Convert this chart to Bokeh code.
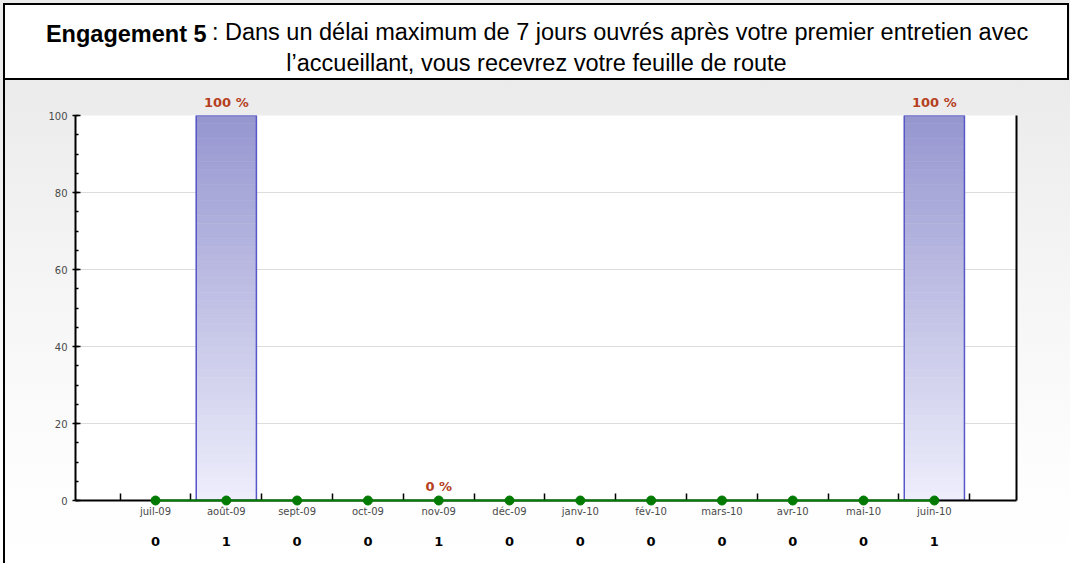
from bokeh.plotting import figure
from bokeh.models import (ColumnDataSource, Range1d, FixedTicker, LinearAxis,
                          SingleIntervalTicker, LabelSet, Grid)
from bokeh.embed import file_html
from bokeh.resources import INLINE
from bokeh.core.properties import value

# ---- data ----
months = ["juil-09", "août-09", "sept-09", "oct-09", "nov-09", "déc-09",
          "janv-10", "fév-10", "mars-10", "avr-10", "mai-10", "juin-10"]
counts = [0, 1, 0, 0, 1, 0, 0, 0, 0, 0, 0, 1]
percent = [None, 100, None, None, 0, None, None, None, None, None, None, 100]
target = [0, 0, 0, 0, 0, 0, 0, 0, 0, 0, 0, 0]
title_bold = "Engagement 5"
title_rest1 = ": Dans un délai maximum de 7 jours ouvrés après votre premier entretien avec"
title_line2 = "l’accueillant, vous recevrez votre feuille de route"
y_ticks_interval = 20

W = 1070
H = 563
FL, FR, FT, FB = 75, 1016, 115, 500   # frame edges on the page
X0, X1 = -1.13, 12.16
CHART_FONT_NAME = "DejaVu Sans"
CHART_FONT = value(CHART_FONT_NAME)


def px2x(px):
    return X0 + (px - FL) * (X1 - X0) / (FR - FL)


p = figure(width=W, height=H, x_range=Range1d(X0, X1), y_range=Range1d(0, 100),
           output_backend="svg", toolbar_location=None,
           min_border_left=FL, min_border_right=W - FR, min_border_top=FT, min_border_bottom=H - FB,
           x_axis_type=None, y_axis_type=None)
p.background_fill_color = "white"
p.border_fill_color = None
p.outline_line_color = None
p.styles = {
    "background":
        "linear-gradient(#000,#000) 3px 3px / 2px 100% no-repeat,"
        "linear-gradient(#000,#000) 3px 3px / 1066px 2px no-repeat,"
        "linear-gradient(#000,#000) 1067px 3px / 2px 77px no-repeat,"
        "linear-gradient(#000,#000) 3px 78px / 1066px 2px no-repeat,"
        "linear-gradient(#fff,#fff) 3px 3px / 1066px 77px no-repeat,"
        "linear-gradient(to bottom, #ebebeb 0px, #ebebeb 80px, #f6f6f6 300px, #fdfdfd 470px, #ffffff 100%)"
}


def text_axis(ticks, labels, standoff, size, style="normal", color="black", font=CHART_FONT_NAME):
    ax = LinearAxis(ticker=FixedTicker(ticks=ticks),
                    major_label_overrides={t: l for t, l in zip(ticks, labels)})
    ax.axis_line_color = None
    ax.major_tick_line_color = None
    ax.minor_tick_line_color = None
    ax.major_tick_out = 0
    ax.major_tick_in = 0
    ax.major_label_standoff = standoff
    ax.major_label_text_font = font
    ax.major_label_text_font_size = size
    ax.major_label_text_font_style = style
    ax.major_label_text_color = color
    return ax


# ---- value labels above the frame (bars reaching the top) ----
top_idx = [i for i, v in enumerate(percent) if v is not None and counts[i] > 0 and v >= 100]
p.add_layout(text_axis(top_idx, ["%d %%" % percent[i] for i in top_idx], 6, "13px", "bold",
                       "#b5401e"), "above")

# ---- header texts (as label rows above the chart) ----
TF = "Liberation Sans"
TS = "23.5px"
bold_w, gap_w, rest_w = 160.6, 6.5, 814.0
start = 536 - (bold_w + gap_w + rest_w) / 2
p.add_layout(text_axis([px2x(536)], [title_line2], 16, TS, font=TF), "above")
p.add_layout(text_axis([px2x(start + bold_w / 2)], [title_bold], 0, TS, "bold", font=TF), "above")
p.add_layout(text_axis([px2x(start + bold_w + gap_w + rest_w / 2)], [title_rest1], -27, TS,
                       font=TF), "above")

# ---- axes ----
yticker = SingleIntervalTicker(interval=y_ticks_interval, num_minor_ticks=4)
yax = LinearAxis(ticker=yticker)
yax.axis_line_color = "black"
yax.axis_line_width = 2
yax.major_tick_in = 5
yax.major_tick_out = 3
yax.minor_tick_in = 3
yax.minor_tick_out = 0
yax.major_tick_line_width = 1.5
yax.minor_tick_line_width = 1.5
yax.major_label_text_font = CHART_FONT_NAME
yax.major_label_text_font_size = "10px"
yax.major_label_text_color = "#4a4a4a"
yax.major_label_standoff = 5
p.add_layout(yax, "left")
p.add_layout(Grid(dimension=1, ticker=yticker, grid_line_color="#dcdcdc", grid_line_width=1))

xpos = list(range(len(months)))
xax = LinearAxis(ticker=FixedTicker(ticks=xpos, minor_ticks=[i - 0.5 for i in range(len(months) + 1)]),
                 major_label_overrides={i: m for i, m in enumerate(months)})
xax.axis_line_color = "black"
xax.axis_line_width = 2
xax.major_tick_in = 0
xax.major_tick_out = 0
xax.minor_tick_in = 7
xax.minor_tick_out = 0
xax.minor_tick_line_width = 1.5
xax.major_label_text_font = CHART_FONT_NAME
xax.major_label_text_font_size = "10px"
xax.major_label_text_color = "#4a4a4a"
xax.major_label_standoff = 5
p.add_layout(xax, "below")

cax = text_axis(xpos, [str(c) for c in counts], 17, "13px", "bold")
p.add_layout(cax, "below")

rax = LinearAxis(ticker=FixedTicker(ticks=[]))
rax.axis_line_color = "black"
rax.axis_line_width = 2
rax.major_label_text_alpha = 0
p.add_layout(rax, "right")

# ---- gradient bars (sliced) ----
N = 50
top_c = (150, 150, 208)
bot_c = (238, 238, 252)
L, R, B, T, C = [], [], [], [], []
bw = 0.85
for i, v in enumerate(percent):
    if v:
        for k in range(N):
            t = (k + 0.5) / N
            col = tuple(int(round(bot_c[j] + (top_c[j] - bot_c[j]) * t)) for j in range(3))
            L.append(i - bw / 2); R.append(i + bw / 2)
            B.append(v * k / N); T.append(v * (k + 1) / N)
            C.append("#%02x%02x%02x" % col)
p.quad(left=L, right=R, bottom=B, top=T, fill_color=C, line_color=C, line_width=0.6)

bars_x = [i for i, v in enumerate(percent) if v]
bars_v = [v for v in percent if v]
p.vbar(x=bars_x, top=bars_v, width=bw, fill_color=None, line_color="#5757c8", line_width=1.5)

p.line(x=xpos, y=target, line_color="#008000", line_width=2, level="overlay")
p.scatter(x=xpos, y=target, size=9, fill_color="#007a00", line_color="#007a00", level="overlay")

# labels that fall inside the frame
in_idx = [i for i, v in enumerate(percent) if v is not None and counts[i] > 0 and v < 100]
lsrc = ColumnDataSource(dict(x=in_idx, y=[percent[i] for i in in_idx],
                             t=["%d %%" % percent[i] for i in in_idx]))
p.add_layout(LabelSet(x="x", y="y", text="t", source=lsrc, y_offset=7, text_align="center",
                      text_baseline="bottom", text_font=CHART_FONT, text_font_style="bold",
                      text_font_size="13px", text_color="#b5401e"))

open("out.html", "w").write(file_html(p, INLINE))
